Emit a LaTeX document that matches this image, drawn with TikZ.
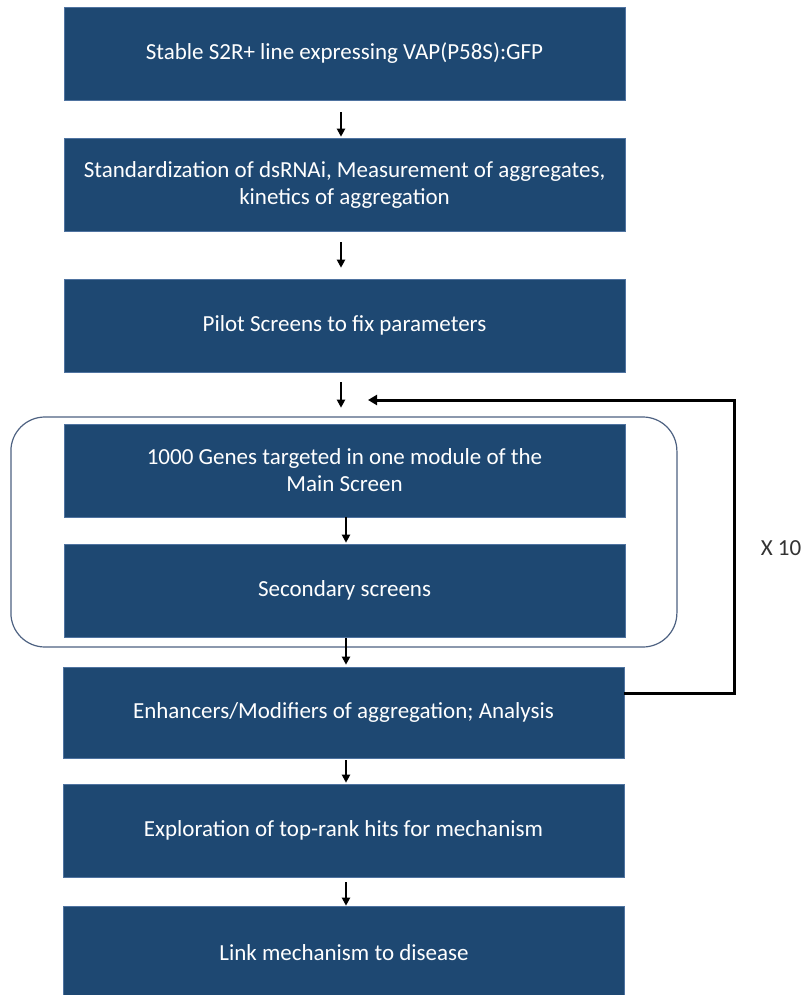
\documentclass[tikz,border=0pt]{standalone}
\usepackage{fontspec}
\setmainfont{Carlito}
\usetikzlibrary{arrows.meta}
\definecolor{boxblue}{HTML}{1E4872}
\definecolor{boxedge}{HTML}{4F73A0}
\definecolor{modedge}{HTML}{4E6282}
\begin{document}
\begin{tikzpicture}[x=1pt,y=-1pt,
  stepbox/.style={fill=boxblue,draw=boxedge,line width=0.6pt,minimum width=561pt,minimum height=93pt,
    inner sep=0pt,text=white,align=center,font=\fontsize{23}{27}\selectfont},
  arr/.style={line width=2pt,-{Triangle[width=8pt,length=8pt]}},
  looparr/.style={line width=3pt,-{Triangle[width=10pt,length=9pt]}},
  modbox/.style={draw=modedge,line width=1.2pt,rounded corners=34pt,minimum width=666pt,minimum height=230pt,inner sep=0pt}
]
\useasboundingbox (0,0) rectangle (809,995);
\fill[white] (0,0) rectangle (809,995);
\node[modbox] (module) at (343.9,532) {};
\node[stepbox] (b1) at (344.5,53.5) {Stable S2R+ line expressing VAP(P58S):GFP};
\node[stepbox] (b2) at (344.5,184.5) {Standardization of dsRNAi, Measurement of aggregates,\\kinetics of aggregation};
\node[stepbox] (b3) at (344.5,325.5) {Pilot Screens to fix parameters};
\node[stepbox] (b4) at (344.5,470.5) {1000 Genes targeted in one module of the\\Main Screen};
\node[stepbox] (b5) at (344.5,590.5) {Secondary screens};
\node[stepbox,minimum height=91pt] (b6) at (343.5,712.5) {Enhancers/Modifiers of aggregation; Analysis};
\node[stepbox] (b7) at (343.5,830.5) {Exploration of top-rank hits for mechanism};
\node[stepbox] (b8) at (344,952.5) {Link mechanism to disease};
\node[font=\fontsize{23}{27}\selectfont,text=black!80] (times) at (781,548) {X 10};
\coordinate (loopin) at (368,400);
\coordinate (loopcorner) at (734,400);
\draw[arr,shorten <=12pt,shorten >=1pt] ([xshift=-3.5pt]b1.south) -- ([xshift=-3.5pt]b2.north);
\draw[arr,shorten <=11pt,shorten >=11pt] ([xshift=-3.5pt]b2.south) -- ([xshift=-3.5pt]b3.north);
\draw[arr,shorten <=10pt,shorten >=16pt] ([xshift=-3.5pt]b3.south) -- ([xshift=-3.5pt]b4.north);
\draw[arr,shorten >=1pt] ([xshift=1.5pt]b4.south) -- ([xshift=1.5pt]b5.north);
\draw[arr,shorten <=1pt,shorten >=2pt] ([xshift=1.5pt]b5.south) -- ([xshift=2.5pt]b6.north);
\draw[arr,shorten <=2pt,shorten >=1pt] ([xshift=2.5pt]b6.south) -- ([xshift=2.5pt]b7.north);
\draw[arr,shorten <=5pt,shorten >=0pt] ([xshift=2.5pt]b7.south) -- ([xshift=2pt]b8.north);
\draw[looparr,line join=miter] ([yshift=19.5pt]b6.east) -| (loopcorner) -- (loopin);
\end{tikzpicture}
\end{document}
